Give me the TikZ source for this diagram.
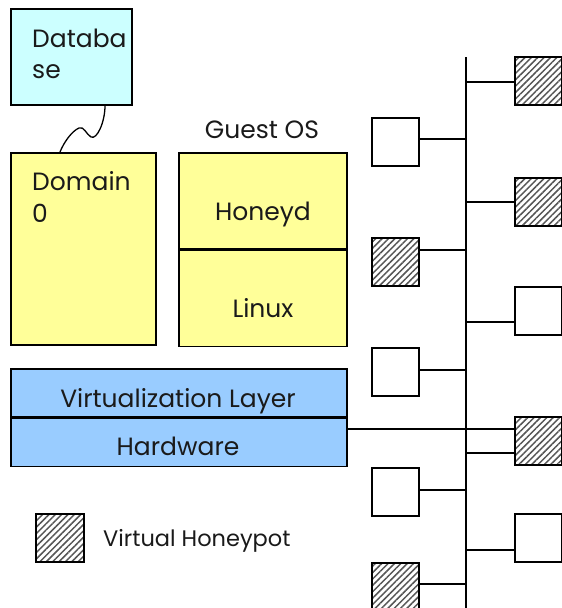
\documentclass[tikz,border=0pt]{standalone}
\usepackage{fontspec}
\setmainfont{Poppins}
\usetikzlibrary{calc,positioning,patterns.meta}
\definecolor{DbCyan}{HTML}{CCFFFF}
\definecolor{DomYellow}{HTML}{FFFF99}
\definecolor{LayerBlue}{HTML}{99CCFF}
\definecolor{HatchGrey}{HTML}{555555}
\definecolor{InkCol}{HTML}{1A1A1A}

\begin{document}
\begin{tikzpicture}[x=1pt,y=-1pt,
  every node/.style={font=\fontsize{25}{31}\selectfont, text=InkCol, inner sep=0pt},
  box/.style={draw, line width=1.6pt},
  vm/.style={box, fill=white, minimum width=47, minimum height=48, anchor=north west},
  honeypot/.style={vm, pattern={Lines[angle=45,distance=4.5pt,line width=1.5pt]}, pattern color=HatchGrey},
  wire/.style={line width=1.5pt}]
  \clip (0,0) rectangle (562,608);
  \useasboundingbox (0,0) rectangle (562,608);
  % database and domain 0
  \node[box, fill=DbCyan, minimum width=121, minimum height=96, anchor=north west] (db) at (10,8) {};
  \node[anchor=base west] (dbline1) at (32,47) {Databa};
  \node[anchor=base west] (dbline2) at (32,78) {se};
  \node[box, fill=DomYellow, minimum width=145, minimum height=192, anchor=north west] (dom) at (10,152) {};
  \node[anchor=base west] (domline1) at (32,190) {Domain};
  \node[anchor=base west] (domline2) at (32,222) {0};
  \draw[wire, line width=1.3pt] (db.south -| 105,0) .. controls (105,122) and (97,140) .. (91,137)
    .. controls (86,134) and (84,126) .. (79,128)
    .. controls (72,131) and (64,142) .. (dom.north -| 60,0);
  % guest OS
  \node[anchor=base] (guest) at (262,138) {Guest OS};
  \node[box, fill=DomYellow, minimum width=168, minimum height=96, anchor=north west] (honeyd) at (178,152) {};
  \node[box, fill=DomYellow, minimum width=168, minimum height=96, anchor=north] (linux) at (honeyd.south) {};
  \node[anchor=base] (honeydtext) at (263,220) {Honeyd};
  \node[anchor=base] (linuxtext) at (263,317) {Linux};
  % layers
  \node[box, fill=LayerBlue, minimum width=336, minimum height=48, anchor=north west] (virt) at (10,368) {};
  \node[box, fill=LayerBlue, minimum width=336, minimum height=48, anchor=north] (hw) at (virt.south) {};
  \node[anchor=base] (virttext) at (178,407) {Virtualization Layer};
  \node[anchor=base] (hwtext) at (178,455) {Hardware};
  % network
  \coordinate (bustop) at (466,57);
  \coordinate (busbot) at (466,610);
  \draw[line width=2pt] (bustop) -- (busbot);
  \node[vm] (l1) at (371,117) {};
  \node[honeypot] (l2) at (371,237) {};
  \node[vm] (l3) at (371,347) {};
  \node[vm] (l4) at (371,467) {};
  \node[honeypot, minimum height=50] (l5) at (371,562) {};
  \node[honeypot] (r1) at (514,56) {};
  \node[honeypot] (r2) at (514,177) {};
  \node[vm] (r3) at (514,286) {};
  \node[honeypot] (r4) at (514,416) {};
  \node[vm] (r5) at (514,513) {};
  \draw[wire] (l1.east |- 0,139) -- (bustop |- 0,139);
  \draw[wire] (l2.east |- 0,250) -- (bustop |- 0,250);
  \draw[wire] (l3.east |- 0,370) -- (bustop |- 0,370);
  \draw[wire] (l4.east |- 0,490) -- (bustop |- 0,490);
  \draw[wire] (l5.east |- 0,584) -- (bustop |- 0,584);
  \draw[wire] (bustop |- 0,82) -- (r1.west |- 0,82);
  \draw[wire] (bustop |- 0,202) -- (r2.west |- 0,202);
  \draw[wire] (bustop |- 0,322) -- (r3.west |- 0,322);
  \draw[wire] (hw.east |- 0,429) -- (r4.west |- 0,429);
  \draw[wire] (bustop |- 0,453) -- (r4.west |- 0,453);
  \draw[wire] (bustop |- 0,550) -- (r5.west |- 0,550);
  % legend
  \node[honeypot, minimum width=48, minimum height=48] (key) at (35,513) {};
  \node[anchor=base west, font=\fontsize{22.5}{26}\selectfont] (keytext) at (103,546) {Virtual Honeypot};
\end{tikzpicture}
\end{document}
